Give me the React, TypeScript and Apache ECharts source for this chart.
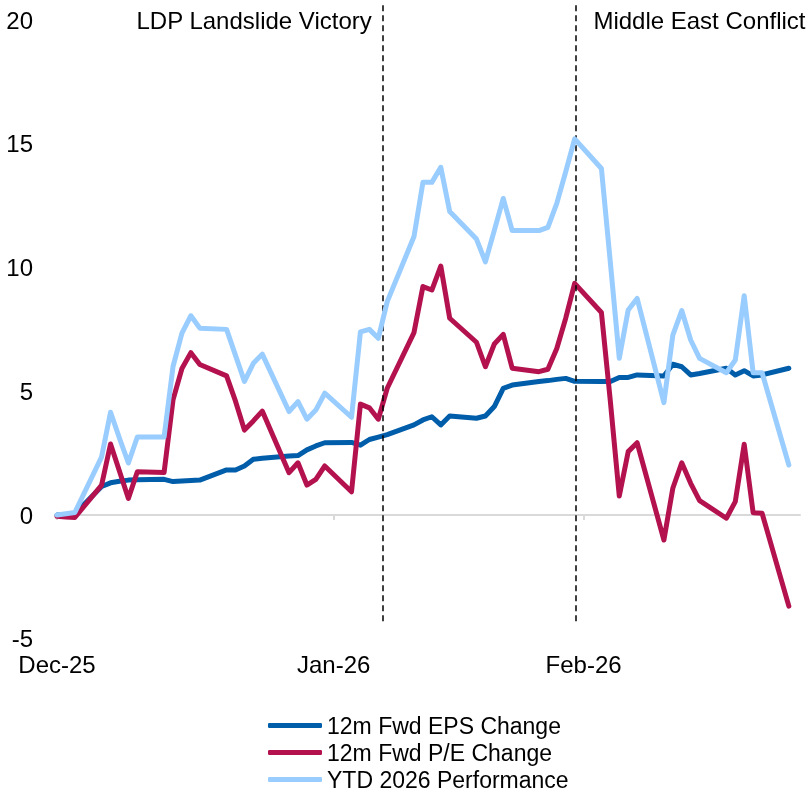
import React, { useEffect, useRef } from "react";
import * as echarts from "echarts";

// Weekday observations (holidays carried in source data)
const dates = [
  "2025-12-31", "2026-01-01", "2026-01-02",
  "2026-01-05", "2026-01-06", "2026-01-07", "2026-01-08", "2026-01-09",
  "2026-01-12", "2026-01-13", "2026-01-14", "2026-01-15", "2026-01-16",
  "2026-01-19", "2026-01-20", "2026-01-21", "2026-01-22", "2026-01-23",
  "2026-01-26", "2026-01-27", "2026-01-28", "2026-01-29", "2026-01-30",
  "2026-02-02", "2026-02-03", "2026-02-04", "2026-02-05", "2026-02-06",
  "2026-02-09", "2026-02-10", "2026-02-11", "2026-02-12", "2026-02-13",
  "2026-02-16", "2026-02-17", "2026-02-18", "2026-02-19", "2026-02-20",
  "2026-02-23", "2026-02-24", "2026-02-25", "2026-02-26", "2026-02-27",
  "2026-03-02", "2026-03-03", "2026-03-04", "2026-03-05", "2026-03-06",
  "2026-03-09", "2026-03-10", "2026-03-11", "2026-03-12", "2026-03-13",
  "2026-03-16", "2026-03-17", "2026-03-18", "2026-03-19", "2026-03-20",
  "2026-03-23",
];

const epsChange = [
  0, 0.02, 0.05,
  1.15, 1.3, 1.36, 1.41, 1.42,
  1.44, 1.35, 1.37, 1.39, 1.41,
  1.82, 1.82, 1.98, 2.25, 2.29,
  2.38, 2.4, 2.63, 2.79, 2.92,
  2.93, 2.82, 3.05, 3.15, 3.25,
  3.64, 3.84, 3.97, 3.64, 4.0,
  3.91, 4.0, 4.38, 5.12, 5.25,
  5.39, 5.43, 5.48, 5.52, 5.4,
  5.39, 5.39, 5.56, 5.56, 5.66,
  5.62, 6.09, 5.99, 5.66, 5.72,
  5.93, 5.66, 5.83, 5.62, 5.66,
  5.93,
];

const peChange = [
  -0.05, -0.08, -0.1,
  1.21, 2.87, 1.77, 0.67, 1.75,
  1.72, 4.65, 5.92, 6.56, 6.08,
  5.62, 4.6, 3.43, 3.8, 4.2,
  1.71, 2.11, 1.21, 1.44, 1.98,
  0.94, 4.48, 4.33, 3.87, 5.12,
  7.37, 9.23, 9.09, 10.06, 7.95,
  6.98, 5.99, 6.91, 7.3, 5.93,
  5.79, 5.89, 6.73, 7.95, 9.36,
  8.18, 4.6, 0.77, 2.56, 2.92,
  -1.01, 1.08, 2.11, 1.28, 0.58,
  -0.13, 0.54, 2.86, 0.09, 0.07,
  -3.68,
];

const ytdPerf = [
  0, 0.05, 0.1,
  2.35, 4.15, 3.1, 2.1, 3.15,
  3.15, 6.0, 7.35, 8.05, 7.55,
  7.5, 6.45, 5.4, 6.13, 6.5,
  4.18, 4.58, 3.87, 4.24, 4.92,
  3.95, 7.4, 7.5, 7.14, 8.62,
  11.25, 13.44, 13.44, 14.05, 12.26,
  11.15, 10.23, 11.5, 12.79, 11.49,
  11.49, 11.62, 12.59, 13.87, 15.2,
  14.0, 10.2, 6.33, 8.28, 8.75,
  4.54, 7.27, 8.26, 7.07, 6.33,
  5.75, 6.26, 8.86, 5.75, 5.75,
  2.02,
];

const seriesNames = ["12m Fwd EPS Change", "12m Fwd P/E Change", "YTD 2026 Performance"];
const seriesColors = ["#005DAA", "#B4124F", "#99CCFF"];

const axisStartDate = "2025-12-31";
const axisEndDate = "2026-03-24 06:00";
const xTickDates = ["2025-12-31", "2026-01-31", "2026-02-28"];
const xTickLabels = ["Dec-25", "Jan-26", "Feb-26"];
const yTicks = [-5, 0, 5, 10, 15, 20];

const eventLabels = ["LDP Landslide Victory", "Middle East Conflict"];
const eventDates = ["2026-02-05 12:00", "2026-02-27 02:00"];
const eventLineTop = 20.6;
const eventLineBottom = -4.3;

function ts(s: string): number {
  const [d, t] = s.split(" ");
  const [y, m, dd] = d.split("-").map(Number);
  const h = t ? Number(t.split(":")[0]) : 0;
  return Date.UTC(y, m - 1, dd, h);
}
// day offset from axis start
function dayOf(s: string): number {
  return (ts(s) - ts(axisStartDate)) / 86400000;
}

const FONT = "'Liberation Sans', Arial, sans-serif";

export default function App() {
  const ref = useRef<HTMLDivElement>(null);

  useEffect(() => {
    if (!ref.current) return;
    const chart = echarts.init(ref.current, undefined, { renderer: "svg" });
    const xMin = 0;
    const xMax = dayOf(axisEndDate);
    const tickVals = xTickDates.map(dayOf);
    const valuesList = [epsChange, peChange, ytdPerf];

    const series: any[] = valuesList.map((vals, i) => ({
      name: seriesNames[i],
      type: "line",
      xAxisIndex: 0,
      yAxisIndex: 0,
      data: dates.map((d, k) => [dayOf(d), vals[k]]),
      showSymbol: false,
      symbol: "none",
      color: seriesColors[i],
      lineStyle: { width: 5, color: seriesColors[i], cap: "round", join: "round" },
      z: 3 + i,
    }));

    series[0].markLine = {
      silent: true,
      symbol: ["none", "none"],
      label: { show: false },
      lineStyle: { color: "#000", width: 1.5, type: [6, 4] },
      data: eventDates.map((d) => [
        { coord: [dayOf(d), eventLineTop] },
        { coord: [dayOf(d), eventLineBottom] },
      ]),
    };

    chart.setOption({
      animation: false,
      textStyle: { fontFamily: FONT },
      grid: { left: 57, right: 9, top: 20 - (eventLineTop - 20) * 24.75, bottom: 153.25, containLabel: false },
      xAxis: [
        {
          type: "value",
          min: xMin,
          max: xMax,
          axisLine: { show: true, onZero: true, lineStyle: { color: "#D9D9D9", width: 2 } },
          axisTick: { show: true, customValues: tickVals, length: 5, lineStyle: { color: "#D9D9D9", width: 2 } },
          axisLabel: { show: false },
          splitLine: { show: false },
        },
        {
          type: "value",
          min: xMin,
          max: xMax,
          position: "bottom",
          axisLine: { show: false, onZero: false },
          axisTick: { show: false },
          splitLine: { show: false },
          axisLabel: {
            show: true,
            customValues: tickVals,
            margin: 14,
            fontSize: 24,
            color: "#000",
            fontFamily: FONT,
            showMinLabel: true,
            formatter: (v: number) => {
              const idx = tickVals.findIndex((t) => Math.abs(t - v) < 0.01);
              return idx >= 0 ? xTickLabels[idx] : "";
            },
          },
        },
      ],
      yAxis: {
        type: "value",
        min: -5,
        max: eventLineTop,
        interval: 5,
        axisLine: { show: false },
        axisTick: { show: false },
        splitLine: { show: false },
        axisLabel: {
          margin: 24,
          fontSize: 24,
          color: "#000",
          fontFamily: FONT,
          formatter: (v: number) => (yTicks.includes(v) ? String(v) : ""),
        },
      },
      legend: {
        orient: "vertical",
        left: 268,
        top: 714,
        height: 120,
        padding: 0,
        itemWidth: 54,
        itemHeight: 5,
        itemGap: 4,
        icon: "roundRect",
        data: seriesNames,
        textStyle: { fontSize: 23, color: "#000", fontFamily: FONT },
      },
      series,
    });

    const graphics: any[] = eventDates.map((d, i) => {
      const px = chart.convertToPixel({ xAxisIndex: 0 }, dayOf(d)) as number;
      const py = chart.convertToPixel({ yAxisIndex: 0 }, 20) as number;
      const left = i === 0;
      return {
        type: "text",
        x: left ? px - 11 : px + 18,
        y: py,
        style: {
          text: eventLabels[i],
          fontSize: 24,
          fontFamily: FONT,
          fill: "#000",
          textAlign: left ? "right" : "left",
          textVerticalAlign: "middle",
        },
      };
    });
    chart.setOption({ graphic: graphics });

    return () => chart.dispose();
  }, []);

  return <div ref={ref} style={{ position: "fixed", left: 0, top: 0, width: 809, height: 792 }} />;
}
